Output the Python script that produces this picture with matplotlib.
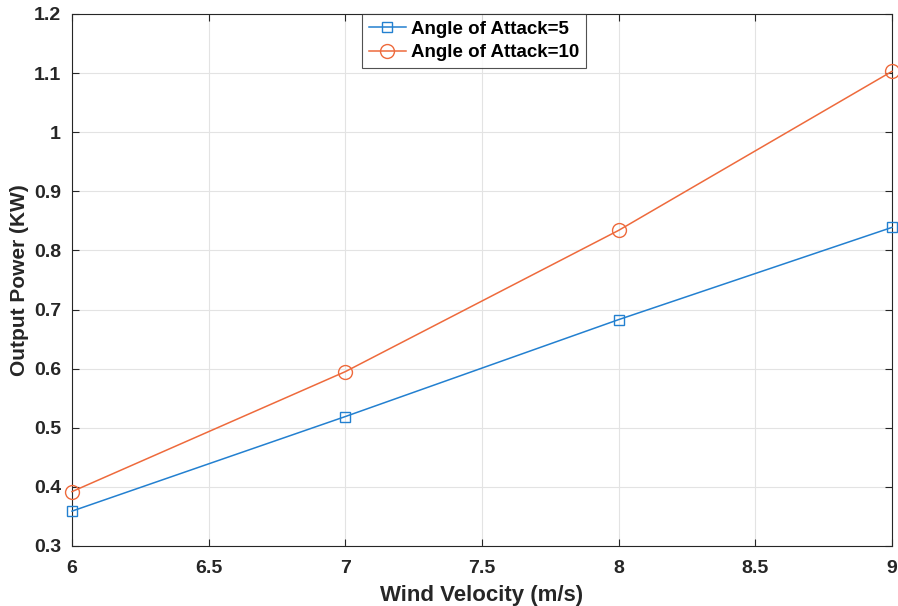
import matplotlib
matplotlib.use("Agg")
import matplotlib.pyplot as plt

wind_velocity = [6, 7, 8, 9]
power_aoa5 = [0.359, 0.519, 0.683, 0.839]
power_aoa10 = [0.392, 0.595, 0.834, 1.103]
x_ticks = [6, 6.5, 7, 7.5, 8, 8.5, 9]
y_ticks = [0.3, 0.4, 0.5, 0.6, 0.7, 0.8, 0.9, 1.0, 1.1, 1.2]
y_tick_labels = ["0.3", "0.4", "0.5", "0.6", "0.7", "0.8", "0.9", "1", "1.1", "1.2"]
x_tick_labels = ["6", "6.5", "7", "7.5", "8", "8.5", "9"]

plt.rcParams['font.family'] = ['Liberation Sans', 'DejaVu Sans']

fig = plt.figure(figsize=(8.98, 6.06), dpi=100)
ax = fig.add_axes([72/898, 60/606, (892-72)/898, (546-14)/606])

blue = '#2380d0'
orange = '#ee6a3c'
ax.plot(wind_velocity, power_aoa5, color=blue, lw=1.1, marker='s', ms=7,
        mfc='none', mec=blue, mew=1.0, label='Angle of Attack=5', clip_on=False, zorder=3)
ax.plot(wind_velocity, power_aoa10, color=orange, lw=1.1, marker='o', ms=10,
        mfc='none', mec=orange, mew=1.0, label='Angle of Attack=10', clip_on=False, zorder=3)

ax.set_xlim(6, 9)
ax.set_ylim(0.3, 1.2)
ax.set_xticks(x_ticks)
ax.set_xticklabels(x_tick_labels)
ax.set_yticks(y_ticks)
ax.set_yticklabels(y_tick_labels)
ax.grid(True, color='#e3e3e3', lw=0.8)
ax.set_axisbelow(True)
ax.tick_params(direction='in', top=True, right=True, length=5, width=0.8,
               colors='#262626', labelsize=14)
ax.tick_params(axis='x', pad=10)
ax.tick_params(axis='y', pad=8)
for lab in ax.get_xticklabels() + ax.get_yticklabels():
    lab.set_fontweight('bold')
for sp in ax.spines.values():
    sp.set_color('#262626')
    sp.set_linewidth(0.8)

ax.set_xlabel('Wind Velocity (m/s)', fontsize=16, fontweight='bold', color='#262626', labelpad=6)
ax.set_ylabel('Output Power (KW)', fontsize=15, fontweight='bold', color='#262626', labelpad=3)

leg = ax.legend(loc='upper center', bbox_to_anchor=(0.49, 1.0),
                prop={'weight': 'bold', 'size': 13.5},
                frameon=True, fancybox=False, edgecolor='#262626', borderpad=0.35,
                handlelength=2.0, labelspacing=0.35, borderaxespad=0.0, handletextpad=0.25)
leg.get_frame().set_linewidth(0.8)

fig.savefig('out.png', dpi=100)
